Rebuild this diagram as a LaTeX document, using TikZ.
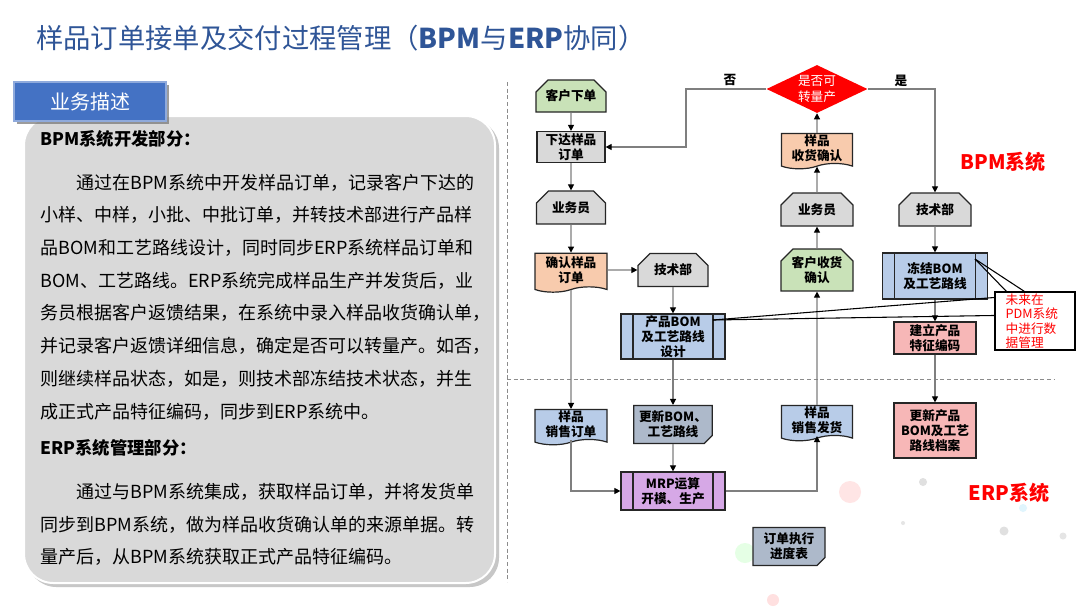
\documentclass[tikz,border=0pt]{standalone}
\usepackage{fontspec}
\setmainfont{Noto Sans CJK SC}
\usetikzlibrary{shapes.misc,shapes.symbols,shapes.geometric,arrows.meta,shadows}
\definecolor{titleblue}{HTML}{2F5597}
\definecolor{tabblue}{HTML}{4472C4}
\definecolor{panelgray}{HTML}{D9D9D9}
\definecolor{boxgreen}{HTML}{C9E2B8}
\definecolor{boxgray}{HTML}{D9D9D9}
\definecolor{boxorange}{HTML}{F8CBAD}
\definecolor{boxblue}{HTML}{B8CCE8}
\definecolor{boxpink}{HTML}{F7B7B7}
\definecolor{boxpurple}{HTML}{D6A8E6}
\definecolor{boxslate}{HTML}{ADB9CA}
\definecolor{bd}{HTML}{262626}
\definecolor{lc}{HTML}{7F7F7F}
\tikzset{
  sz/.style 2 args={minimum width=#1*0.75pt, minimum height=#2*0.75pt},
  base/.style={draw=bd, line width=0.9pt, align=center, inner sep=1pt,
    font=\bfseries\fontsize{9.5}{11.3}\selectfont},
  chamf/.style={base, chamfered rectangle, chamfered rectangle corners={north west,north east},
    chamfered rectangle xsep=4.5pt, chamfered rectangle ysep=4.5pt},
  plainbox/.style={base, rectangle},
  docbox/.style={base, tape, tape bend top=none, tape bend bottom=in and out, tape bend height=4pt},
  predef/.style={base, rectangle, path picture={
    \draw[line width=0.9pt, draw=bd]
      ([xshift=9pt]path picture bounding box.north west) -- ([xshift=9pt]path picture bounding box.south west)
      ([xshift=-9pt]path picture bounding box.north east) -- ([xshift=-9pt]path picture bounding box.south east);}},
  cardbox/.style={base, chamfered rectangle, chamfered rectangle corners=south east,
    chamfered rectangle xsep=3pt, chamfered rectangle ysep=3pt},
  conn/.style={draw=lc, line width=0.8pt, -{Triangle[color=black,width=4.5pt,length=4.5pt]}},
  ptr/.style={draw=black, line width=0.8pt},
  dashline/.style={draw=black!45, line width=0.6pt, dash pattern=on 3pt off 2pt},
  ptxt/.style={anchor=west, inner sep=0, font=\fontsize{13.5}{16}\selectfont},
  phead/.style={anchor=west, inner sep=0, font=\bfseries\fontsize{13}{16}\selectfont},
  lbl/.style={inner sep=0, font=\bfseries\fontsize{9.5}{11}\selectfont},
  syslbl/.style={inner sep=0, text=red, font=\bfseries\fontsize{15}{18}\selectfont},
  dot/.style={fill=#1, draw=none}
}
\begin{document}
\begin{tikzpicture}[x=0.75pt,y=-0.75pt]
\useasboundingbox (0,0) rectangle (1080,608);
\fill[white] (0,0) rectangle (1080,608);

% faint background decoration
\fill[dot=red!10] (850,492) circle (11);
\fill[dot=black!12] (923,482) circle (4);
\fill[dot=black!12] (1004,531) circle (4.5);
\fill[dot=black!10] (1063,536) circle (3.5);
\fill[dot=cyan!12] (1023,508) circle (4);
\fill[dot=black!10] (903,523) circle (2);
\fill[dot=green!10] (745,553) circle (10);
\fill[dot=red!12] (773,600) circle (6);

% title
\node[anchor=west, inner sep=0, text=titleblue, font=\fontsize{20.5}{24}\selectfont] (title) at (36,38)
  {样品订单接单及交付过程管理（\textbf{BPM}与\textbf{ERP}协同）};

% left panel
\fill[black!22, rounded corners=22pt] (27,119) rectangle (499,587);
\draw[draw=white, line width=1.5pt, fill=panelgray, rounded corners=22pt] (24,116) rectangle (495,583);
\node[fill=tabblue, draw=tabblue!60!white, line width=0.8pt, text=white, sz={152}{39},
  font=\fontsize{15}{18}\selectfont,
  drop shadow={shadow xshift=2pt, shadow yshift=-2pt, fill=black!55, opacity=0.7}] (tab) at (90,101.5) {业务描述};

\node[phead] (h1) at (40,139) {BPM系统开发部分：};
\node[ptxt] (l1) at (40,183) {\hspace*{2em}通过在BPM系统中开发样品订单，记录客户下达的};
\node[ptxt] (l2) at (40,215) {小样、中样，小批、中批订单，并转技术部进行产品样};
\node[ptxt] (l3) at (40,248) {品BOM和工艺路线设计，同时同步ERP系统样品订单和};
\node[ptxt] (l4) at (40,281) {BOM、工艺路线。ERP系统完成样品生产并发货后，业};
\node[ptxt] (l5) at (40,313) {务员根据客户返馈结果，在系统中录入样品收货确认单，};
\node[ptxt] (l6) at (40,346) {并记录客户返馈详细信息，确定是否可以转量产。如否，};
\node[ptxt] (l7) at (40,379) {则继续样品状态，如是，则技术部冻结技术状态，并生};
\node[ptxt] (l8) at (40,412) {成正式产品特征编码，同步到ERP系统中。};
\node[phead] (h2) at (40,448) {ERP系统管理部分：};
\node[ptxt] (m1) at (40,492) {\hspace*{2em}通过与BPM系统集成，获取样品订单，并将发货单};
\node[ptxt] (m2) at (40,525) {同步到BPM系统，做为样品收货确认单的来源单据。转};
\node[ptxt] (m3) at (40,557) {量产后，从BPM系统获取正式产品特征编码。};

% dashed separators
\draw[dashline] (507,82) -- (507,582);
\draw[dashline] (507,379) -- (1055,379);

% system labels
\node[syslbl] (bpmlbl) at (1003,162) {BPM系统};
\node[syslbl] (erplbl) at (1009,493) {ERP系统};

% column 1
\node[chamf, fill=boxgreen, sz={70}{32}] (n1) at (571,96) {客户下单};
\node[plainbox, fill=boxgray, sz={68}{31}] (n2) at (571,147) {下达样品\\订单};
\node[chamf, fill=boxgray, sz={69}{33}] (n3) at (571,207.5) {业务员};
\node[docbox, fill=boxorange, sz={72}{39}] (n4) at (571,270) {确认样品\\订单};
\node[docbox, fill=boxblue, sz={72}{34}] (n5) at (571,424.5) {样品\\销售订单};

% column 2
\node[chamf, fill=boxgray, sz={70}{33}] (t1) at (673,270) {技术部};
\node[predef, fill=boxblue, sz={104}{45}] (bom) at (673,336.5) {产品BOM\\及工艺路线\\设计};
\node[cardbox, fill=boxslate, sz={72}{35}] (upd) at (673,424.5) {更新BOM、\\工艺路线};
\node[predef, fill=boxpurple, sz={104}{38}] (mrp) at (673,491) {MRP运算\\开模、生产};
\node[cardbox, fill=boxslate, sz={72}{35}] (prog) at (789,546.5) {订单执行\\进度表};

% column 3
\node[diamond, fill=red, draw=none, text=white, align=center, inner sep=0, aspect=2.1,
  font=\fontsize{9.5}{11.3}\selectfont, sz={101}{48}] (dec) at (817,89) {是否可\\转量产};
\node[docbox, fill=boxorange, sz={71}{35}] (rcv) at (817,148.5) {样品\\收货确认};
\node[chamf, fill=boxgray, sz={72}{33}] (s2) at (817,209.5) {业务员};
\node[chamf, fill=boxgreen, sz={72}{32}] (cust) at (817,270) {客户收货\\确认};
\node[docbox, fill=boxblue, sz={71}{33}] (ship) at (817,420.5) {样品\\销售发货};

% column 4
\node[chamf, fill=boxgray, sz={72}{33}] (t2) at (935,209.5) {技术部};
\node[predef, fill=boxblue, sz={105}{46}] (frz) at (935,276) {冻结BOM\\及工艺路线};
\node[plainbox, fill=boxpink, sz={82}{32}] (code) at (935,338) {建立产品\\特征编码};
\node[plainbox, fill=boxpink, sz={82}{55}] (arch) at (935,430.5) {更新产品\\BOM及工艺\\路线档案};

% connectors
\draw[conn] (n1) -- (n2);
\draw[conn] (n2) -- (n3);
\draw[conn] (n3) -- (n4);
\draw[conn] (n4) -- (t1);
\draw[conn] (n4) -- (n5);
\draw[conn] (t1) -- (bom);
\draw[conn] (bom) -- (upd);
\draw[conn] (upd) -- (mrp);
\draw[conn] (n5.south) |- (mrp.west);
\draw[conn] (mrp.east) -| (ship.south);
\draw[conn] (ship) -- (cust);
\draw[conn] (cust) -- (s2);
\draw[conn] (s2) -- (rcv);
\draw[conn] (rcv) -- (dec);
\coordinate (turnx) at (686,0);
\draw[conn] (dec.west) -- (dec.west -| turnx) -- (n2.east -| turnx) -- (n2.east);
\draw[conn] (dec.east) -| (t2.north);
\draw[conn] (t2) -- (frz);
\draw[conn] (frz) -- (code);
\draw[conn] (code) -- (arch);
\node[lbl] (nolbl) at (730,80) {否};
\node[lbl] (yeslbl) at (901,81) {是};

% callout
\coordinate (pa) at (975,259);
\coordinate (pb) at (713,320);
\node[draw=black, line width=0.8pt, fill=white, sz={74}{58}, inner xsep=8pt, inner ysep=0pt,
  text width=44pt, align=left, text=red, font=\fontsize{9.5}{10.9}\selectfont] (note) at (1035,321)
  {未来在\\PDM系统\\中进行数\\据管理};
\draw[ptr] (pa) -- ([xshift=9pt]note.north west);
\draw[ptr] (pa) -- ([xshift=22.5pt]note.north west);
\draw[ptr] (pb) -- ([yshift=-4.5pt]note.north west);
\draw[ptr] (pb) -- ([yshift=-18pt]note.north west);
\end{tikzpicture}
\end{document}
